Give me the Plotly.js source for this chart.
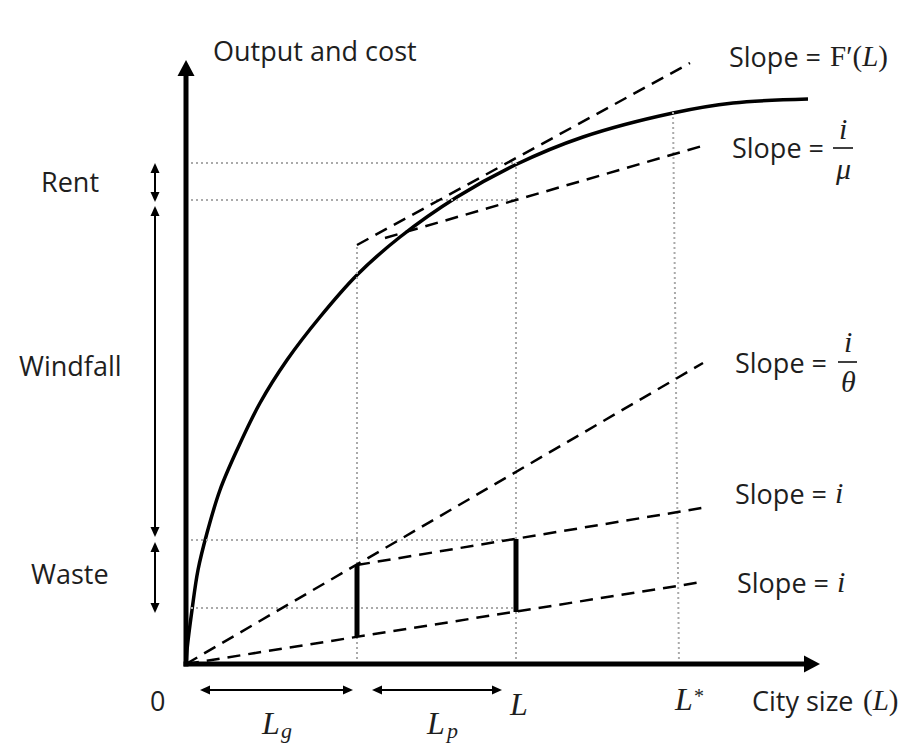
<!DOCTYPE html>
<html>
<head>
<meta charset="utf-8">
<script src="https://cdn.plot.ly/plotly-3.0.1.min.js"></script>
<style>html,body{margin:0;padding:0;background:#fff;}#chart{width:920px;height:748px;}</style>
</head>
<body>
<div id="chart"></div>
<script>
// ---- Data (diagram units, origin at axes corner) ----
const curveX = [0, 1, 6, 12, 21, 34, 51, 74, 101, 134, 171, 214, 271, 329, 397, 487, 547, 622];
const curveY = [0, 14, 54, 94, 131, 174, 214, 261, 304, 347, 389, 427, 467, 499, 527, 551, 561, 565];

const dashNames = ["F′(L)", "i/μ", "i/θ", "i (upper)", "i (lower)"];
const dashX0 = [171, 199, 0, 171, 0];
const dashY0 = [419, 426, 0, 99, 0];
const dashX1 = [504, 516, 517, 522, 516];
const dashY1 = [601, 518, 301, 157, 82];

const barX = [171, 330];
const barYLow = [27, 52];
const barYHigh = [99, 125];

const hDotY = [501, 464, 124, 56];
const hDotX0 = [0, 0, 0, 0];
const hDotX1 = [330, 330, 330, 330];
const vDotX0 = [171, 330, 487];
const vDotX1 = [171, 330, 493];
const vDotYTop = [419, 501, 552];

const leftArrowX = -31;
const leftArrowTop = [501, 458, 122];
const leftArrowBottom = [462, 127, 51];
const leftLabels = ["Rent", "Windfall", "Waste"];
const leftLabelY = [483, 299, 91];

const bottomArrowY = -26;
const bottomArrowLeft = [14, 186];
const bottomArrowRight = [167, 316];

const axisTipY = 604;
const axisTipX = 634;

// ---- Traces ----
const traces = [];
traces.push({x: curveX, y: curveY, mode: 'lines', line: {color: '#000', width: 3.5, shape: 'spline', smoothing: 1}, hoverinfo: 'skip', name: 'F(L)'});

for (let k = 0; k < hDotY.length; k++) {
  traces.push({x: [hDotX0[k], hDotX1[k]], y: [hDotY[k], hDotY[k]], mode: 'lines', line: {color: '#aaaaaa', width: 2, dash: '2px,3px'}, hoverinfo: 'skip'});
}
for (let k = 0; k < vDotX0.length; k++) {
  traces.push({x: [vDotX1[k], vDotX0[k]], y: [0, vDotYTop[k]], mode: 'lines', line: {color: '#aaaaaa', width: 2, dash: '2px,3px'}, hoverinfo: 'skip'});
}
for (let k = 0; k < dashNames.length; k++) {
  traces.push({x: [dashX0[k], dashX1[k]], y: [dashY0[k], dashY1[k]], mode: 'lines', line: {color: '#000', width: 2.5, dash: '13px,8px'}, hoverinfo: 'skip', name: dashNames[k]});
}
for (let k = 0; k < barX.length; k++) {
  traces.push({x: [barX[k], barX[k]], y: [barYLow[k], barYHigh[k]], mode: 'lines', line: {color: '#000', width: 5}, hoverinfo: 'skip'});
}

// ---- Shapes: axes, arrows ----
function head(tx, ty, dx, dy, len, hw) {
  const bx = tx - dx * len, by = ty - dy * len;
  const px = -dy, py = dx;
  return {type: 'path', xref: 'x', yref: 'y', fillcolor: '#000', line: {width: 0},
    path: `M${bx + px * hw},${by + py * hw} L${tx},${ty} L${bx - px * hw},${by - py * hw} Z`};
}
function seg(x0, y0, x1, y1, w) {
  return {type: 'line', xref: 'x', yref: 'y', x0: x0, y0: y0, x1: x1, y1: y1, line: {color: '#000', width: w}};
}
const shapes = [];
shapes.push(seg(0, -2.5, 0, axisTipY - 14, 5));
shapes.push(head(0, axisTipY, 0, 1, 16, 8.5));
shapes.push(seg(-2.5, 0, axisTipX - 14, 0, 5));
shapes.push(head(axisTipX, 0, 1, 0, 16, 8.5));
for (let k = 0; k < leftArrowTop.length; k++) {
  shapes.push(seg(leftArrowX, leftArrowTop[k] - 8, leftArrowX, leftArrowBottom[k] + 8, 2));
  shapes.push(head(leftArrowX, leftArrowTop[k], 0, 1, 10, 4.5));
  shapes.push(head(leftArrowX, leftArrowBottom[k], 0, -1, 10, 4.5));
}
for (let k = 0; k < bottomArrowLeft.length; k++) {
  shapes.push(seg(bottomArrowLeft[k] + 8, bottomArrowY, bottomArrowRight[k] - 8, bottomArrowY, 2));
  shapes.push(head(bottomArrowLeft[k], bottomArrowY, -1, 0, 10, 4.5));
  shapes.push(head(bottomArrowRight[k], bottomArrowY, 1, 0, 10, 4.5));
}
// fraction bars
shapes.push(seg(647, 516, 667, 516, 1.5));
shapes.push(seg(652, 302, 671, 302, 1.5));

// ---- Annotations ----
const SANS = 'Open Sans, sans-serif';
const SERIF = 'Liberation Serif, serif';
const txtColor = '#1e1e1e';
function ann(x, y, text, size, family, xanchor, italic) {
  return {x: x, y: y, xref: 'x', yref: 'y', text: text, showarrow: false,
    xanchor: xanchor || 'center', yanchor: 'middle',
    font: {family: family, size: size, color: txtColor, style: italic ? 'italic' : 'normal'}};
}
const annotations = [];
annotations.push(ann(129, 614, 'Output and cost', 27, SANS));
for (let k = 0; k < leftLabels.length; k++) annotations.push(ann(-116, leftLabelY[k], leftLabels[k], 27, SANS));
annotations.push(ann(-29, -36, '0', 27, SANS));
// L_g, L_p, L, L*
annotations.push(ann(84, -59, 'L', 32, SERIF, 'center', true));
annotations.push(ann(100, -66, 'g', 22, SERIF, 'center', true));
annotations.push(ann(249, -59, 'L', 32, SERIF, 'center', true));
annotations.push(ann(265, -66, 'p', 22, SERIF, 'center', true));
annotations.push(ann(332, -40, 'L', 32, SERIF, 'center', true));
annotations.push(ann(497, -35, 'L', 32, SERIF, 'center', true));
annotations.push(ann(513, -32, '*', 20, SERIF, 'center', false));
annotations.push(ann(564, -36, 'City size', 27, SANS, 'left'));
annotations.push(ann(694, -36, '(<i>L</i>)', 29, SERIF));
annotations.push(ann(541, 608, 'Slope =', 27, SANS, 'left'));
annotations.push(ann(673, 608, 'F′(<i>L</i>)', 29, SERIF));
annotations.push(ann(544, 517, 'Slope =', 27, SANS, 'left'));
annotations.push(ann(657, 536, 'i', 30, SERIF, 'center', true));
annotations.push(ann(657, 496, 'μ', 30, SERIF, 'center', true));
annotations.push(ann(547, 302, 'Slope =', 27, SANS, 'left'));
annotations.push(ann(662, 323, 'i', 30, SERIF, 'center', true));
annotations.push(ann(662, 283, 'θ', 30, SERIF, 'center', true));
annotations.push(ann(547, 171, 'Slope =', 27, SANS, 'left'));
annotations.push(ann(653, 172, 'i', 30, SERIF, 'center', true));
annotations.push(ann(549, 82, 'Slope =', 27, SANS, 'left'));
annotations.push(ann(655, 83, 'i', 30, SERIF, 'center', true));

const layout = {
  width: 920, height: 748,
  margin: {l: 0, r: 0, t: 0, b: 0},
  paper_bgcolor: '#fff', plot_bgcolor: '#fff',
  showlegend: false,
  xaxis: {range: [-186, 734], visible: false, fixedrange: true},
  yaxis: {range: [-84, 664], visible: false, fixedrange: true},
  shapes: shapes,
  annotations: annotations
};
Plotly.newPlot('chart', traces, layout, {displayModeBar: false, staticPlot: true});
</script>
</body>
</html>
